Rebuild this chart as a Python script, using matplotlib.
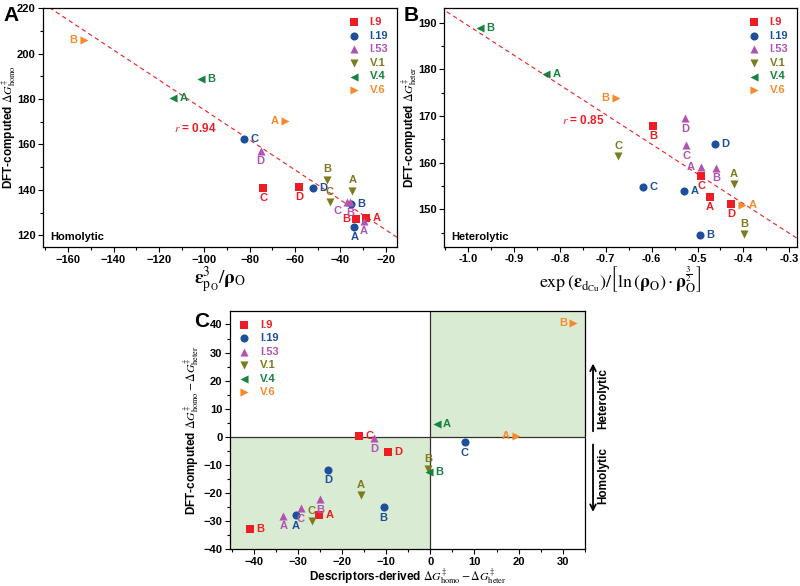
import numpy as np
import matplotlib.pyplot as plt
from matplotlib.ticker import MultipleLocator, FormatStrFormatter

plt.rcParams['font.family'] = ['Liberation Sans', 'DejaVu Sans']
plt.rcParams['mathtext.fontset'] = 'stix'

# series info
series = ['I.9', 'I.19', 'I.53', 'V.1', 'V.4', 'V.6']
colors = ['#ee1d23', '#1d4f9c', '#b153b3', '#7b7b1f', '#16833e', '#f7892a']
markers = ['s', 'o', '^', 'v', '<', '>']
letters = [['A', 'B', 'C', 'D'], ['A', 'B', 'C', 'D'], ['A', 'B', 'C', 'D'],
           ['A', 'B', 'C'], ['A', 'B'], ['A', 'B']]

# panel A: eps^3/rho vs DFT homolytic barrier
homo_x = [[-28.7, -33.1, -74.0, -58.2],
          [-33.9, -35.2, -82.5, -52.3],
          [-29.8, -35.8, -37.2, -75.2],
          [-34.7, -46.0, -44.8],
          [-113.6, -101.3],
          [-64.3, -153.2]]
homo_y = [[127.7, 127.1, 141.0, 141.3],
          [123.7, 133.9, 162.4, 140.8],
          [126.3, 134.6, 134.7, 157.2],
          [139.5, 144.4, 134.5],
          [180.6, 188.7],
          [170.2, 206.2]]
homo_fit = (-0.661, 109.1)

# panel B: exp(eps_d)/[ln(rho)*rho^1.5] vs DFT heterolytic barrier
heter_x = [[-0.473, -0.597, -0.492, -0.426],
           [-0.529, -0.494, -0.618, -0.461],
           [-0.492, -0.459, -0.524, -0.527],
           [-0.421, -0.398, -0.673],
           [-0.830, -0.975],
           [-0.403, -0.678]]
heter_y = [[152.7, 167.9, 157.2, 151.2],
           [154.0, 144.5, 154.7, 164.0],
           [159.1, 158.9, 163.8, 169.5],
           [155.4, 144.7, 161.4],
           [179.0, 188.9],
           [151.0, 173.9]]
heter_fit = (-63.6, 125.8)

# panel C: descriptor-derived vs DFT difference
diff_x = [[-25.2, -40.9, -16.1, -9.6],
          [-30.5, -10.6, 7.8, -23.1],
          [-33.3, -25.0, -29.4, -12.8],
          [-15.7, -0.5, -26.9],
          [1.4, -0.2],
          [19.4, 32.4]]
diff_y = [[-27.8, -32.9, 0.4, -5.5],
          [-27.8, -25.0, -1.9, -11.7],
          [-28.0, -22.2, -25.3, -0.5],
          [-20.7, -11.5, -30.1],
          [4.6, -12.5],
          [0.3, 40.6]]

# where each letter goes relative to its marker
offsets = {'r': (4.5, 0, 'left', 'center'), 'l': (-4.5, 0, 'right', 'center'),
           'b': (0, -4, 'center', 'top'), 'a': (0, 4, 'center', 'bottom'),
           'bl': (-4, -3, 'right', 'top')}
dirs_a = [['r', 'l', 'b', 'b'], ['b', 'r', 'r', 'r'], ['b', 'b', 'bl', 'b'],
          ['a', 'a', 'a'], ['r', 'r'], ['l', 'l']]
dirs_b = [['b', 'b', 'b', 'b'], ['r', 'r', 'r', 'r'], ['l', 'b', 'b', 'b'],
          ['a', 'a', 'a'], ['r', 'r'], ['r', 'l']]
dirs_c = [['r', 'r', 'r', 'r'], ['b', 'b', 'b', 'b'], ['b', 'b', 'b', 'b'],
          ['a', 'a', 'a'], ['r', 'r'], ['l', 'l']]


def draw_points(ax, xs, ys, dirs):
    for i in range(len(series)):
        ax.scatter(xs[i], ys[i], marker=markers[i], color=colors[i], s=34,
                   linewidths=0, label=series[i], zorder=3)
        for j, let in enumerate(letters[i]):
            dx, dy, ha, va = offsets[dirs[i][j]]
            ax.annotate(let, (xs[i][j], ys[i][j]), xytext=(dx, dy),
                        textcoords='offset points', ha=ha, va=va,
                        color=colors[i], fontsize=8, fontweight='bold', zorder=4)


def style_axes(ax):
    ax.tick_params(which='both', direction='out', top=False, right=False,
                   labelsize=8, width=0.8, pad=2)
    ax.tick_params(which='major', length=3.5)
    ax.tick_params(which='minor', length=2)
    for sp in ax.spines.values():
        sp.set_linewidth(0.9)


def add_legend(ax, loc):
    leg = ax.legend(loc=loc, frameon=False, fontsize=8, handlelength=1.0,
                    handletextpad=0.9, labelspacing=0.32, borderaxespad=0.4,
                    scatterpoints=1, markerscale=1.0)
    for txt, c in zip(leg.get_texts(), colors):
        txt.set_color(c)
        txt.set_fontweight('bold')


fig = plt.figure(figsize=(8, 5.86), dpi=100)
axA = fig.add_axes([0.054, 0.5785, 0.4425, 0.4073])
axB = fig.add_axes([0.5554, 0.579, 0.4409, 0.4068])
axC = fig.add_axes([0.2875, 0.0626, 0.4438, 0.4072])

# ---- A ----
draw_points(axA, homo_x, homo_y, dirs_a)
xl = np.array([-175, -10])
axA.plot(xl, homo_fit[0] * xl + homo_fit[1], ls=(0, (4, 3)), color='#ee1d23',
         lw=0.8, zorder=2)
axA.set_xlim(-171, -15)
axA.set_ylim(114.8, 220)
axA.xaxis.set_major_locator(MultipleLocator(20))
axA.xaxis.set_minor_locator(MultipleLocator(10))
axA.yaxis.set_major_locator(MultipleLocator(20))
axA.yaxis.set_minor_locator(MultipleLocator(10))
axA.text(-113.5, 167, r'$\it{r}$ = 0.94', color='#ee1d23', fontsize=8.5,
         fontweight='bold', va='center')
axA.text(0.02, 0.03, 'Homolytic', transform=axA.transAxes, fontsize=8,
         fontweight='bold')
axA.set_xlabel(r'$\mathbf{\varepsilon}^{3}_{\mathrm{p_O}}/\mathbf{\rho}_{\mathrm{O}}$',
               fontsize=14, labelpad=0)
axA.set_ylabel(r'DFT-computed $\Delta G^{\ddagger}_{\mathrm{homo}}$',
               fontsize=8.5, fontweight='bold')
axA.yaxis.set_label_coords(-0.072, 0.5)
add_legend(axA, 'upper right')
style_axes(axA)

# ---- B ----
draw_points(axB, heter_x, heter_y, dirs_b)
xl = np.array([-1.1, -0.25])
axB.plot(xl, heter_fit[0] * xl + heter_fit[1], ls=(0, (4, 3)), color='#ee1d23',
         lw=0.8, zorder=2)
axB.set_xlim(-1.052, -0.283)
axB.set_ylim(142, 193.1)
axB.xaxis.set_major_locator(MultipleLocator(0.1))
axB.xaxis.set_minor_locator(MultipleLocator(0.05))
axB.xaxis.set_major_formatter(FormatStrFormatter('%.1f'))
axB.yaxis.set_major_locator(MultipleLocator(10))
axB.yaxis.set_minor_locator(MultipleLocator(5))
axB.text(-0.795, 169.1, r'$\it{r}$ = 0.85', color='#ee1d23', fontsize=8.5,
         fontweight='bold', va='center')
axB.text(0.02, 0.03, 'Heterolytic', transform=axB.transAxes, fontsize=8,
         fontweight='bold')
axB.set_xlabel(r'$\exp\left(\mathbf{\varepsilon}_{\mathrm{d_{Cu}}}\right)/'
               r'\left[\ln\left(\mathbf{\rho}_{\mathrm{O}}\right)\cdot'
               r'\mathbf{\rho}_{\mathrm{O}}^{\frac{3}{2}}\right]$',
               fontsize=13, labelpad=0)
axB.set_ylabel(r'DFT-computed $\Delta G^{\ddagger}_{\mathrm{heter}}$',
               fontsize=8.5, fontweight='bold')
axB.yaxis.set_label_coords(-0.072, 0.5)
add_legend(axB, 'upper right')
style_axes(axB)

# ---- C ----
green = '#d9ebd2'
axC.set_xlim(-45.4, 35.06)
axC.set_ylim(-40, 44.9)
axC.fill_between([-45.4, 0], -40, 0, color=green, zorder=0, lw=0)
axC.fill_between([0, 35.06], 0, 44.9, color=green, zorder=0, lw=0)
axC.axhline(0, color='#333333', lw=0.9, zorder=1)
axC.axvline(0, color='#333333', lw=0.9, zorder=1)
draw_points(axC, diff_x, diff_y, dirs_c)
axC.xaxis.set_major_locator(MultipleLocator(10))
axC.xaxis.set_minor_locator(MultipleLocator(5))
axC.yaxis.set_major_locator(MultipleLocator(10))
axC.yaxis.set_minor_locator(MultipleLocator(5))
axC.set_xlabel(r'Descriptors-derived $\Delta G^{\ddagger}_{\mathrm{homo}} - '
               r'\Delta G^{\ddagger}_{\mathrm{heter}}$',
               fontsize=8.5, fontweight='bold', labelpad=0)
axC.set_ylabel(r'DFT-computed $\Delta G^{\ddagger}_{\mathrm{homo}} - '
               r'\Delta G^{\ddagger}_{\mathrm{heter}}$',
               fontsize=8.5, fontweight='bold', labelpad=2)
add_legend(axC, 'upper left')
style_axes(axC)

# side arrows
axC.annotate('', xy=(1.0225, 0.79), xytext=(1.0225, 0.483),
             xycoords='axes fraction',
             arrowprops=dict(arrowstyle='->', lw=1.3, color='black'),
             annotation_clip=False)
axC.annotate('', xy=(1.0225, 0.145), xytext=(1.0225, 0.451),
             xycoords='axes fraction',
             arrowprops=dict(arrowstyle='->', lw=1.3, color='black'),
             annotation_clip=False)
axC.text(1.052, 0.634, 'Heterolytic', transform=axC.transAxes, rotation=90,
         ha='center', va='center', fontsize=8.5, fontweight='bold')
axC.text(1.052, 0.311, 'Homolytic', transform=axC.transAxes, rotation=90,
         ha='center', va='center', fontsize=8.5, fontweight='bold')

# panel letters
fig.text(0.004, 0.99, 'A', fontsize=15, fontweight='bold', va='top')
fig.text(0.505, 0.99, 'B', fontsize=15, fontweight='bold', va='top')
fig.text(0.243, 0.468, 'C', fontsize=15, fontweight='bold', va='top')

# bold tick labels (ticks only exist after a draw)
fig.canvas.draw()
for ax in (axA, axB, axC):
    for lab in ax.get_xticklabels() + ax.get_yticklabels():
        lab.set_fontweight('bold')

fig.savefig('out.png', dpi=100)
